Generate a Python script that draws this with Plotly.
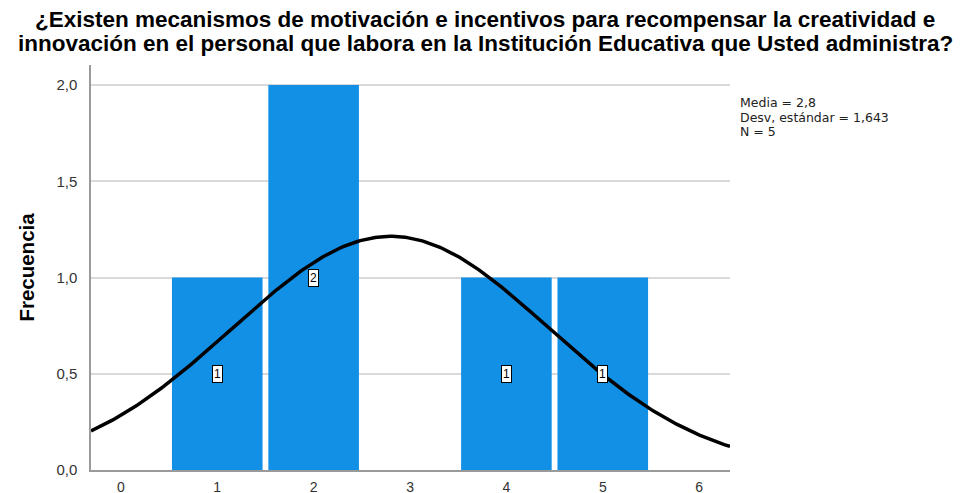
import numpy as np
import plotly.graph_objects as go

# Histogram data (response value -> frequency)
categories = [1, 2, 3, 4, 5]
counts = [1, 2, 0, 1, 1]
x_ticks = [0, 1, 2, 3, 4, 5, 6]
y_ticks = [0.0, 0.5, 1.0, 1.5, 2.0]
y_tick_labels = ["0,0", "0,5", "1,0", "1,5", "2,0"]

title_lines = [
    "¿Existen mecanismos de motivación e incentivos para recompensar la creatividad e",
    "innovación en el personal que labora en la Institución Educativa que Usted administra?",
]

BAR_COLOR = "#1290E6"
X_RANGE = [-0.31, 6.32]
Y_RANGE = [0, 2.104]
FONT = "Liberation Sans, Arial"

# Summary statistics from the frequencies
vals = np.repeat(categories, counts)
n = len(vals)
mean = vals.mean()
sd = vals.std(ddof=1)

# Normal curve scaled to the histogram (bin width 1)
xs = np.linspace(X_RANGE[0], X_RANGE[1], 300)
ys = n * np.exp(-0.5 * ((xs - mean) / sd) ** 2) / (sd * np.sqrt(2 * np.pi))

bar_x = [c for c, k in zip(categories, counts) if k > 0]
bar_y = [k for k in counts if k > 0]

fig = go.Figure()
fig.add_trace(go.Bar(
    x=bar_x, y=bar_y, width=0.94,
    marker={"color": BAR_COLOR, "line": {"width": 0}},
    hoverinfo="skip",
))
fig.add_trace(go.Scatter(
    x=xs, y=ys, mode="lines",
    line={"color": "black", "width": 3.5},
    hoverinfo="skip",
))

# Count labels in the middle of each bar
for bx, by in zip(bar_x, bar_y):
    fig.add_annotation(
        x=bx, y=by / 2, text=str(by), showarrow=False,
        font={"family": FONT, "size": 12, "color": "black"},
        bgcolor="white", bordercolor="black", borderwidth=1, borderpad=1,
    )

# Title as two centred lines (page body adds an 8px offset)
for txt, ty in zip(title_lines, [1.113, 1.054]):
    fig.add_annotation(
        xref="paper", yref="paper", x=0.617, y=ty, xanchor="center", yanchor="middle",
        text="<b>" + txt + "</b>", showarrow=False,
        font={"family": FONT, "size": 22.5, "color": "black"},
    )

stats_lines = [
    f"Media = {mean:.1f}".replace(".", ","),
    f"Desv. estándar = {sd:.3f}".replace(".", ","),
    f"N = {n}",
]
for txt, ty in zip(stats_lines, [0.907, 0.871, 0.835]):
    fig.add_annotation(
        xref="paper", yref="paper", x=1.012, y=ty, xanchor="left", yanchor="middle",
        text=txt, showarrow=False, align="left",
        font={"family": "DejaVu Sans", "size": 12.5, "color": "#222222"},
    )

fig.update_layout(
    width=967, height=493,
    margin={"l": 83, "r": 245, "t": 57, "b": 31},
    paper_bgcolor="white", plot_bgcolor="white",
    showlegend=False,
    font={"family": FONT, "size": 14, "color": "#333333"},
)
fig.update_xaxes(
    range=X_RANGE, tickmode="array", tickvals=x_ticks,
    showgrid=False, zeroline=False, automargin=False,
    showline=True, linecolor="#9a9a9a", linewidth=1.5,
    ticks="", ticklabelstandoff=3,
    tickfont={"size": 14, "color": "#333333"},
)
fig.update_yaxes(
    range=Y_RANGE, tickmode="array", tickvals=y_ticks, ticktext=y_tick_labels,
    showgrid=True, gridcolor="#d9d9d9", gridwidth=1.5, zeroline=False, automargin=False,
    showline=True, linecolor="#9a9a9a", linewidth=1.5,
    ticks="", ticklabelstandoff=9,
    tickfont={"size": 15, "color": "#333333"},
    title={"text": "<b>Frecuencia</b>", "standoff": 16,
           "font": {"family": FONT, "size": 20.5, "color": "black"}},
)

fig.write_html("out.html")
